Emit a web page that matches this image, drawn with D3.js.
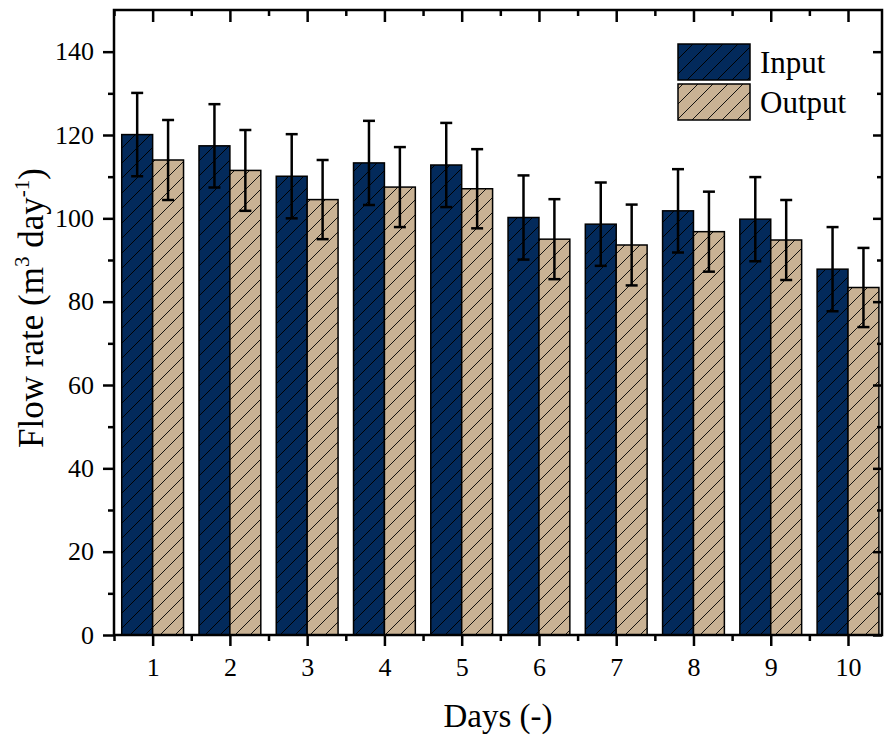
<!DOCTYPE html>
<html>
<head>
<meta charset="UTF-8">
<title>Flow rate bars</title>
<script src="https://cdn.jsdelivr.net/npm/d3@7"></script>
<style>
  body { margin: 0; background: #fff; }
  text { font-family: "Liberation Serif", "Times New Roman", serif; fill: #000; }
  .axis path { display: none; }
  .axis line { stroke: #000; stroke-width: 2.5px; }
  .bar { stroke: #000; stroke-width: 1.5px; }
  .err { stroke: #000; stroke-width: 2.5px; fill: none; }
</style>
</head>
<body>
<svg width="890" height="736"></svg>
<script>
// values
var days = [1, 2, 3, 4, 5, 6, 7, 8, 9, 10];
var inputFlow  = [120.1, 117.4, 110.1, 113.3, 112.8, 100.2, 98.6, 101.8, 99.8, 87.8];
var inputErr   = [10.0, 10.0, 10.1, 10.1, 10.1, 10.1, 10.0, 10.0, 10.1, 10.1];
var outputFlow = [114.0, 111.5, 104.5, 107.5, 107.1, 95.0, 93.6, 96.8, 94.8, 83.4];
var outputErr  = [9.6, 9.7, 9.5, 9.6, 9.5, 9.6, 9.7, 9.6, 9.6, 9.5];
var yMajor = [0, 20, 40, 60, 80, 100, 120, 140];
var yMinor = [10, 30, 50, 70, 90, 110, 130];
var xMinor = [0.5, 1.5, 2.5, 3.5, 4.5, 5.5, 6.5, 7.5, 8.5, 9.5];
var seriesNames = ['Input', 'Output'];
var seriesColors = ['#032a5b', '#c9b294'];

var svg = d3.select('svg');
var m = { left: 114, right: 882, top: 10, bottom: 635 };

var x = d3.scaleLinear().domain([0.5, 10.44]).range([m.left, m.right]);
var y = d3.scaleLinear().domain([0, 150]).range([m.bottom, m.top]);
var barW = 0.4;

// hatch patterns, one per series
var hp = 15;
var defs = svg.append('defs');
seriesColors.forEach(function(c, i) {
  var p = defs.append('pattern')
    .attr('id', 'hatch' + i)
    .attr('patternUnits', 'userSpaceOnUse')
    .attr('width', hp).attr('height', hp);
  p.append('rect').attr('width', hp).attr('height', hp).attr('fill', c);
  p.append('path')
    .attr('d', 'M-3,3 L3,-3 M0,' + hp + ' L' + hp + ',0 M' + (hp - 3) + ',' + (hp + 3) + ' L' + (hp + 3) + ',' + (hp - 3))
    .attr('stroke', '#000').attr('stroke-width', i === 0 ? 1 : 0.9);
});

var rows = days.map(function(d, i) {
  return [
    { day: d, v: inputFlow[i], e: inputErr[i], s: 0 },
    { day: d, v: outputFlow[i], e: outputErr[i], s: 1 }
  ];
});
var flat = [].concat.apply([], rows);

// bars
svg.append('g').selectAll('rect')
  .data(flat).enter().append('rect')
  .attr('class', 'bar')
  .attr('x', function(d) { return x(d.day - barW + d.s * barW); })
  .attr('width', function(d) { return x(barW) - x(0); })
  .attr('y', function(d) { return y(d.v); })
  .attr('height', function(d) { return y(0) - y(d.v); })
  .attr('fill', function(d) { return 'url(#hatch' + d.s + ')'; });

// error bars
var cap = 6;
var eg = svg.append('g').selectAll('g').data(flat).enter().append('g').attr('class', 'err');
function cx(d) { return x(d.day - barW / 2 + d.s * barW); }
eg.append('line')
  .attr('x1', cx).attr('x2', cx)
  .attr('y1', function(d) { return y(d.v - d.e); })
  .attr('y2', function(d) { return y(d.v + d.e); });
eg.append('line')
  .attr('x1', function(d) { return cx(d) - cap; }).attr('x2', function(d) { return cx(d) + cap; })
  .attr('y1', function(d) { return y(d.v + d.e); }).attr('y2', function(d) { return y(d.v + d.e); });
eg.append('line')
  .attr('x1', function(d) { return cx(d) - cap; }).attr('x2', function(d) { return cx(d) + cap; })
  .attr('y1', function(d) { return y(d.v - d.e); }).attr('y2', function(d) { return y(d.v - d.e); });

// axes
function addAxis(axis, tx, ty) {
  return svg.append('g').attr('class', 'axis')
    .attr('transform', 'translate(' + tx + ',' + ty + ')')
    .call(axis);
}
addAxis(d3.axisLeft(y).tickValues(yMajor).tickSize(11).tickPadding(9).tickSizeOuter(0), m.left, 0);
addAxis(d3.axisLeft(y).tickValues(yMinor).tickSize(6).tickFormat(''), m.left, 0);
addAxis(d3.axisRight(y).tickValues(yMajor).tickSize(-9).tickFormat(''), m.right, 0);
addAxis(d3.axisRight(y).tickValues(yMinor).tickSize(-5).tickFormat(''), m.right, 0);
addAxis(d3.axisBottom(x).tickValues(days).tickSize(11).tickPadding(12).tickFormat(d3.format('d')), 0, m.bottom);
addAxis(d3.axisBottom(x).tickValues(xMinor).tickSize(6).tickFormat(''), 0, m.bottom);
addAxis(d3.axisTop(x).tickValues(days).tickSize(-12).tickFormat(''), 0, m.top);
addAxis(d3.axisTop(x).tickValues(xMinor).tickSize(-6).tickFormat(''), 0, m.top);

svg.selectAll('.axis text').style('font-size', '26px').style('font-family', '"Liberation Serif", serif');

// frame
svg.append('rect')
  .attr('x', m.left).attr('y', m.top)
  .attr('width', m.right - m.left).attr('height', m.bottom - m.top)
  .attr('fill', 'none').attr('stroke', '#000').attr('stroke-width', 2.5);

// axis titles
svg.append('text')
  .attr('x', (m.left + m.right) / 2).attr('y', 727)
  .attr('text-anchor', 'middle')
  .style('font-size', '33px')
  .text('Days (-)');

var yt = svg.append('text')
  .attr('transform', 'translate(43,' + 308 + ') rotate(-90)')
  .attr('text-anchor', 'middle')
  .style('font-size', '35px');
yt.append('tspan').text('Flow rate (m');
yt.append('tspan').attr('dy', -14).style('font-size', '21px').text('3');
yt.append('tspan').attr('dy', 14).text(' day');
yt.append('tspan').attr('dy', -14).style('font-size', '21px').text('-1');
yt.append('tspan').attr('dy', 14).text(')');

// legend
var lg = svg.append('g').attr('transform', 'translate(678,44)');
seriesNames.forEach(function(n, i) {
  lg.append('rect')
    .attr('class', 'bar')
    .attr('x', 0).attr('y', i * 40)
    .attr('width', 72).attr('height', 36)
    .attr('fill', 'url(#hatch' + i + ')');
  lg.append('text')
    .attr('x', 82).attr('y', i * 40 + 29)
    .style('font-size', '31px')
    .text(n);
});
</script>
</body>
</html>
